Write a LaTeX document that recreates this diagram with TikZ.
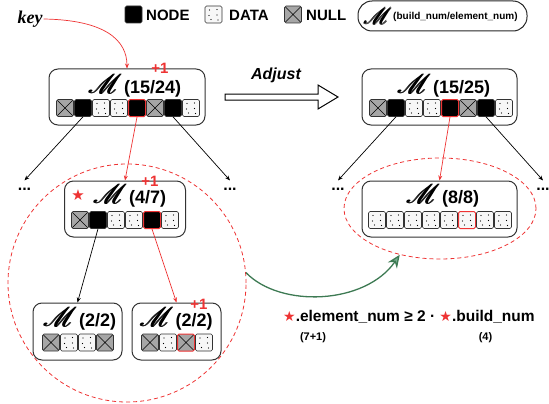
\documentclass[tikz,border=0pt]{standalone}
\usepackage{amsmath}
\usepackage{mathrsfs}
\usepackage{graphicx}
\usepackage{fontspec}
\setmainfont{Liberation Sans}
\newfontfamily\serifbi{Liberation Serif}
\newfontfamily\djv{DejaVu Sans}
\usetikzlibrary{shapes.geometric,arrows.meta}
\definecolor{myred}{HTML}{EE3333}
\definecolor{mygreen}{HTML}{3D7A53}
\definecolor{mygreenfill}{HTML}{78AE90}
\newcommand{\bigM}{\scalebox{1.3}{\fontsize{20.74}{22}\selectfont$\pmb{\mathscr{M}}$}}
\newcommand{\legM}{\scalebox{1.1}{\fontsize{20.74}{22}\selectfont$\pmb{\mathscr{M}}$}}
\newcommand{\Mt}[1]{\bigM\,{\fontsize{18}{20}\selectfont\bfseries #1}}
\newcommand{\cellrow}[4]{%
  \foreach \t [count=\i] in {#4} {%
    \edef\mycellcmd{\noexpand\node[cell\t] (#1\i) at ({#2+(\i-1)*18},#3) {};}\mycellcmd}}
\begin{document}
\begin{tikzpicture}[x=1pt,y=-1pt,
  box/.style={draw=black!80, line width=1pt, rounded corners=9pt, fill=white, inner sep=0pt},
  cellbase/.style={minimum size=17pt, inner sep=0pt, rounded corners=1.5pt, draw=black!80, line width=0.6pt},
  cellN/.style={cellbase, fill=black},
  cellD/.style={cellbase, fill=black!3, path picture={
      \foreach \dx/\dy in {-4/-4.5,3.5/-5,-4.5/1,3.5/0.5,-2.5/5,4.5/5.5}
        \fill[black] ([shift={(\dx,\dy)}]path picture bounding box.center) circle (0.7pt);}},
  cellX/.style={cellbase, fill=black!35, path picture={
      \draw[black, line width=0.6pt] (path picture bounding box.south west)--(path picture bounding box.north east)
        (path picture bounding box.north west)--(path picture bounding box.south east);}},
  cellRN/.style={cellN, draw=myred, line width=1pt},
  cellRD/.style={cellD, draw=myred, line width=1pt},
  cellRX/.style={cellX, draw=myred, line width=1pt},
  arr/.style={-{Stealth[length=5pt,width=4pt]}, line width=0.7pt},
  dotsnode/.style={anchor=base, inner xsep=1pt, inner ysep=7pt, font=\bfseries\fontsize{16}{16}\selectfont},
  plusone/.style={text=myred, inner sep=0pt, font=\bfseries\fontsize{15}{15}\selectfont},
  legtext/.style={anchor=west, inner sep=0pt, font=\bfseries\fontsize{15}{15}\selectfont},
  ]
\useasboundingbox (0,0) rectangle (549,404);

% legend
\node[cellN] (lgN) at (133.5,14.5) {};
\node[legtext] (lgNt) at (146,15) {NODE};
\node[cellD] (lgD) at (213.5,14.5) {};
\node[legtext] (lgDt) at (229,15) {DATA};
\node[cellX] (lgX) at (293,14.5) {};
\node[legtext] (lgXt) at (306,15) {NULL};
\node[draw=black!85, line width=1pt, rounded corners=14pt, minimum width=169pt, minimum height=30pt, inner sep=0pt] (lgbox) at (442.5,16) {};
\node[inner sep=0pt] (lgM) at (378,16) {\legM};
\node[anchor=west, inner sep=0pt, font=\bfseries\fontsize{10}{10}\selectfont] (lgMt) at (393,17) {(build\textunderscore num/element\textunderscore num)};

% key
\node[inner sep=1pt, font=\serifbi\bfseries\itshape\fontsize{18}{18}\selectfont] (key) at (30,19) {key};

% boxes
\node[box, minimum width=156pt, minimum height=56pt] (bRL) at (127,97) {};
\node[box, minimum width=155pt, minimum height=56pt] (bRR) at (439.5,97) {};
\node[box, minimum width=121pt, minimum height=56pt] (bC) at (125,209) {};
\node[box, minimum width=155pt, minimum height=56pt] (bC2) at (439.5,209) {};
\node[box, minimum width=89pt, minimum height=57pt] (bLL) at (77.5,331.5) {};
\node[box, minimum width=89pt, minimum height=57pt] (bLR) at (176.5,331.5) {};

% titles
\node[inner sep=0pt] (tRL) at (135,86) {\Mt{(15/24)}};
\node[inner sep=0pt] (tRR) at (444,86) {\Mt{(15/25)}};
\node[inner sep=0pt] (tC) at (130,196) {\Mt{(4/7)}};
\node[inner sep=0pt] (tC2) at (443,196) {\Mt{(8/8)}};
\node[inner sep=0pt] (tLL) at (80,319) {\Mt{(2/2)}};
\node[inner sep=0pt] (tLR) at (176.5,319) {\Mt{(2/2)}};
\node[inner sep=0pt, text=myred, font=\djv\fontsize{15}{15}\selectfont] (star) at (78,195) {★};

% cells
\cellrow{rl}{65}{108}{X,N,D,D,RN,X,N,D}
\cellrow{rr}{378}{108}{X,N,D,D,RN,X,N,D}
\cellrow{c}{80}{220}{X,N,D,D,RN,D}
\cellrow{cc}{377}{220}{D,D,D,D,D,RD,D,D}
\cellrow{ll}{51}{342.5}{X,D,D,X}
\cellrow{lr}{150}{342.5}{X,D,RX,D}

% +1 labels
\node[plusone] (p1) at (160,68) {+1};
\node[plusone] (p2) at (150,181) {+1};
\node[plusone] (p3) at (199,304) {+1};

% dots
\node[dotsnode] (d1) at (24.5,190) {...};
\node[dotsnode] (d2) at (230,190) {...};
\node[dotsnode] (d3) at (338,190) {...};
\node[dotsnode] (d4) at (543,190) {...};

% connectors
\draw[arr, myred] (key.east) .. controls (105,20) and (127,40) .. (bRL.north);
\draw[arr] (rl2.south) -- (d1.north);
\draw[arr, myred] (rl5.south) -- (bC.north);
\draw[arr] (rl7.south) -- (d2.north);
\draw[arr] (rr2.south) -- (d3.north);
\draw[arr, myred] (rr5.south) -- (bC2.north);
\draw[arr] (rr7.south) -- (d4.north);
\draw[arr] (c2.south) -- (bLL.north);
\draw[arr, myred] (c5.south) -- (bLR.north);

% adjust arrow
\draw[line width=1pt, fill=white] (225,94) -- (318,94) -- (318,85) -- (338,97) -- (318,109) -- (318,100) -- (225,100) -- cycle;
\node[inner sep=0pt, font=\bfseries\itshape\fontsize{16}{16}\selectfont] (adj) at (276,75) {Adjust};

% groups
\node[circle, draw=myred, dashed, dash pattern=on 4pt off 3pt, line width=0.8pt, minimum size=238pt, inner sep=0pt] (grp) at (127,283) {};
\node[ellipse, draw=myred, dashed, dash pattern=on 4pt off 3pt, line width=0.8pt, minimum width=192pt, minimum height=101pt, inner sep=0pt] (ell) at (440,208.5) {};
\draw[mygreen, line width=1.3pt, -{Stealth[length=13pt,width=11pt,fill=mygreenfill]}] (grp.5) .. controls (280,308) and (365,305) .. (ell.229);

% formula
\node[anchor=west, inner sep=0pt, font=\bfseries\fontsize{15.5}{16}\selectfont] (form) at (283,317) {{\djv\color{myred}\fontsize{14}{14}\selectfont ★}.element\textunderscore num ≥ 2 · {\djv\color{myred}\fontsize{14}{14}\selectfont ★}.build\textunderscore num};
\node[inner sep=0pt, font=\bfseries\fontsize{11}{11}\selectfont] (f1) at (313,338) {(7+1)};
\node[inner sep=0pt, font=\bfseries\fontsize{11}{11}\selectfont] (f2) at (485.5,338) {(4)};
\end{tikzpicture}
\end{document}
